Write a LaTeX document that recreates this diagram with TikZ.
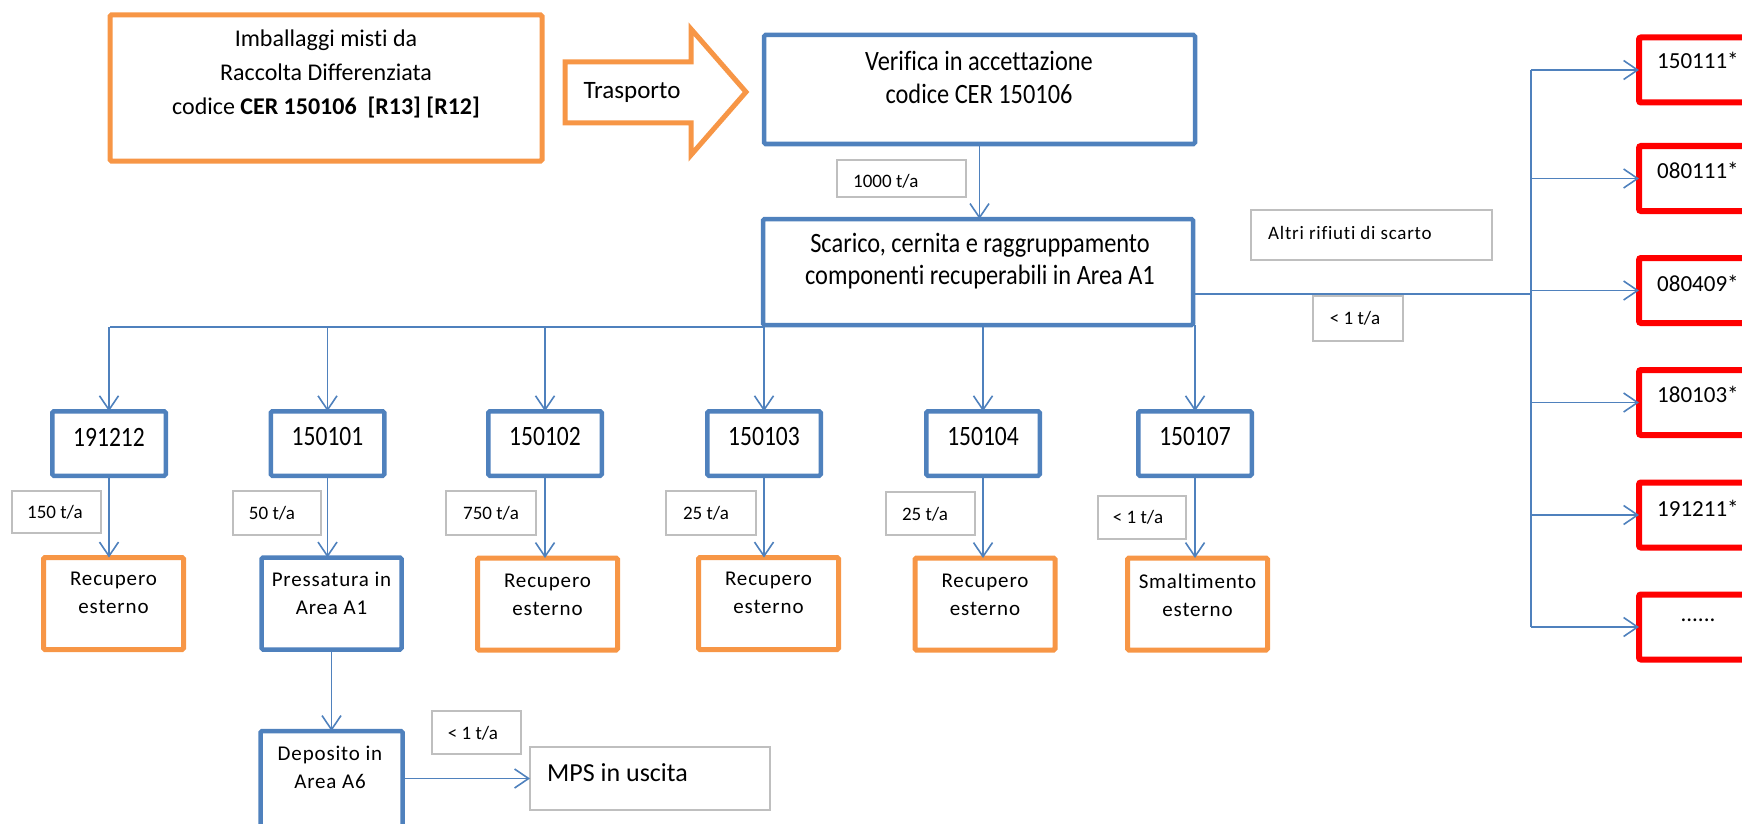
\documentclass[tikz,border=0pt]{standalone}
\usepackage{fontspec}
\setmainfont{Carlito}[Ligatures=NoCommon]
\newfontfamily\condf{Carlito}[FakeStretch=0.87, Ligatures=NoCommon]
\newfontfamily\condg{Carlito}[FakeStretch=0.84, Ligatures=NoCommon]
\newfontfamily\spacedf{Carlito}[LetterSpace=4, Ligatures=NoCommon]
\usetikzlibrary{arrows.meta}
\definecolor{cblue}{HTML}{4F81BD}
\definecolor{corange}{HTML}{F79646}
\definecolor{cred}{HTML}{FF0000}
\definecolor{cgray}{HTML}{BFBFBF}
\newcommand\myfs[2]{\fontsize{#1}{#2}\selectfont}
\begin{document}
\begin{tikzpicture}[x=1pt,y=-1pt,
  box/.style={inner sep=0pt, outer sep=0pt, fill=white},
  bluebox/.style={box, draw=cblue, line width=4.5pt, rounded corners=1.5pt},
  orabox/.style={box, draw=corange, line width=5pt, rounded corners=1.5pt},
  redbox/.style={box, draw=cred, line width=6pt, rounded corners=2pt},
  graybox/.style={box, draw=cgray, line width=2pt},
  txt/.style={inner sep=0pt, align=center, text=black},
  lab/.style={txt, font=\myfs{19}{23}},
  low/.style={txt, font=\spacedf\myfs{21}{28}},
  big/.style={txt, font=\condf\myfs{28}{33}},
  conn/.style={draw=cblue, line width=1.6pt},
  arr/.style={conn, -{Straight Barb[length=14pt,width=19pt,line width=1.6pt]}}
]
\useasboundingbox (0,0) rectangle (1742,824);
\clip (0,0) rectangle (1742,824);

% source
\node[orabox, minimum width=432pt, minimum height=146pt] (src) at (326,88) {};
\node[txt, font=\myfs{24}{34}] (srcT) at (326,74) {Imballaggi misti da\\Raccolta Differenziata\\codice \textbf{CER 150106\ \ [R13] [R12]}};

% transport block arrow
\draw[corange, line width=5pt, line join=miter, fill=white] (565,62) -- (691,62) -- (691,29) -- (746,92) -- (691,155) -- (691,123) -- (565,123) -- cycle;
\node[txt, font=\myfs{25}{30}] (trT) at (632,92) {Trasporto};

% verifica
\node[bluebox, minimum width=431pt, minimum height=109pt] (ver) at (979.5,89.5) {};
\node[big] (verT) at (979,77.5) {Verifica in accettazione\\codice CER 150106};

% scarico
\node[bluebox, minimum width=430pt, minimum height=106pt] (scar) at (978,272) {};
\node[big, font=\condf\myfs{28}{32}] (scarT) at (980,261) {Scarico, cernita e raggruppamento\\componenti recuperabili in Area A1};

\node[graybox, minimum width=129pt, minimum height=37pt] (g1000) at (901.5,178.5) {};
\node[lab, anchor=west] (g1000T) at (853,181) {1000 t/a};
\draw[arr] (ver.south) -- (ver.south |- scar.north);

% altri rifiuti
\node[graybox, minimum width=241pt, minimum height=50pt] (galt) at (1371.5,235) {};
\node[lab, font=\spacedf\myfs{19}{23}, anchor=west] (galtT) at (1268,233) {Altri rifiuti di scarto};
\node[graybox, minimum width=90pt, minimum height=45pt] (gr1) at (1358,318.5) {};
\node[lab] (gr1T) at (1355,318) {< 1 t/a};

% code boxes
\foreach \n/\x/\t in {c1/109/191212, c2/327.5/150101, c3/545/150102, c4/764/150103, c5/983/150104, c6/1195/150107}{
  \node[bluebox, minimum width=113.5pt, minimum height=64.5pt] (\n) at (\x,443.5) {};
  \node[txt, font=\condg\myfs{28}{30}] (\n T) at (\x,437) {\t};
}

% lower boxes
\node[orabox, minimum width=140pt, minimum height=92pt] (l1) at (113.5,603.5) {};
\node[bluebox, minimum width=140pt, minimum height=92pt] (l2) at (331.5,603.5) {};
\node[orabox, minimum width=140pt, minimum height=92pt] (l3) at (547.5,604) {};
\node[orabox, minimum width=140pt, minimum height=92pt] (l4) at (768.5,603.5) {};
\node[orabox, minimum width=140pt, minimum height=92pt] (l5) at (985,604) {};
\node[orabox, minimum width=140pt, minimum height=92pt] (l6) at (1197.5,604) {};
\node[low] (l1T) at (113.5,593) {Recupero\\esterno};
\node[low] (l2T) at (331.5,593) {Pressatura in\\Area A1};
\node[low] (l3T) at (547.5,595) {Recupero\\esterno};
\node[low] (l4T) at (768.5,593) {Recupero\\esterno};
\node[low] (l5T) at (985,595) {Recupero\\esterno};
\node[low] (l6T) at (1197.5,595) {Smaltimento\\esterno};

% flow labels
\node[graybox, minimum width=89pt, minimum height=42pt] (q1) at (56.5,512) {};
\node[lab] (q1T) at (55,512) {150 t/a};
\node[graybox, minimum width=88pt, minimum height=44pt] (q2) at (277,513) {};
\node[lab] (q2T) at (272,513) {50 t/a};
\node[graybox, minimum width=90pt, minimum height=44pt] (q3) at (491,513) {};
\node[lab] (q3T) at (491,513) {750 t/a};
\node[graybox, minimum width=90pt, minimum height=44pt] (q4) at (711,513) {};
\node[lab] (q4T) at (706,513) {25 t/a};
\node[graybox, minimum width=89pt, minimum height=43pt] (q5) at (930.5,513.5) {};
\node[lab] (q5T) at (925,514) {25 t/a};
\node[graybox, minimum width=88pt, minimum height=43pt] (q6) at (1142,517.5) {};
\node[lab] (q6T) at (1138,517) {< 1 t/a};

% distribution
\coordinate (busL) at (110,327);
\draw[conn] (scar.west |- busL) -- (busL);
\foreach \c in {c1,c2,c3} \draw[arr] (\c.north |- busL) -- (\c.north);
\foreach \c in {c4,c5,c6} \draw[arr] (\c.north |- scar.south) -- (\c.north);
\foreach \k in {1,...,6} \draw[arr] (c\k.south) -- (c\k.south |- l\k.north);

% deposito
\node[bluebox, minimum width=142pt, minimum height=138pt] (depo) at (331.5,800) {};
\node[low] (depoT) at (330,767) {Deposito in\\Area A6};
\draw[arr] (l2.south) -- (l2.south |- depo.north);
\node[graybox, minimum width=240pt, minimum height=63pt] (mps) at (650,778.5) {};
\node[txt, font=\myfs{26}{30}, anchor=west] (mpsT) at (547,773) {MPS in uscita};
\node[graybox, minimum width=89pt, minimum height=43pt] (q7) at (476.5,732.5) {};
\node[lab] (q7T) at (473,733) {< 1 t/a};
\draw[arr] (mps.west -| depo.east) -- (mps.west);

% red boxes
\foreach \n/\y/\ty/\t in {r1/70/60/150111*, r2/178.5/170/080111*, r3/290.5/283/080409*, r4/402.5/394/180103*, r5/515/508/191211*}{
  \node[redbox, minimum width=160pt, minimum height=65pt] (\n) at (1719,\y) {};
  \node[txt, font=\myfs{23}{28}, anchor=west] (\n T) at (1657,\ty) {\t};
}
\node[redbox, minimum width=160pt, minimum height=65pt] (r6) at (1719,627) {};
\node[txt, font=\myfs{23}{28}] (r6T) at (1698,620) {......};

\coordinate (rb) at (1531,294);
\draw[conn] (rb -| scar.east) -- (rb);
\draw[conn] (r1.west -| rb) -- (r6.west -| rb);
\foreach \r in {r1,r2,r3,r4,r5,r6} \draw[arr] (\r.west -| rb) -- (\r.west);
\end{tikzpicture}
\end{document}
